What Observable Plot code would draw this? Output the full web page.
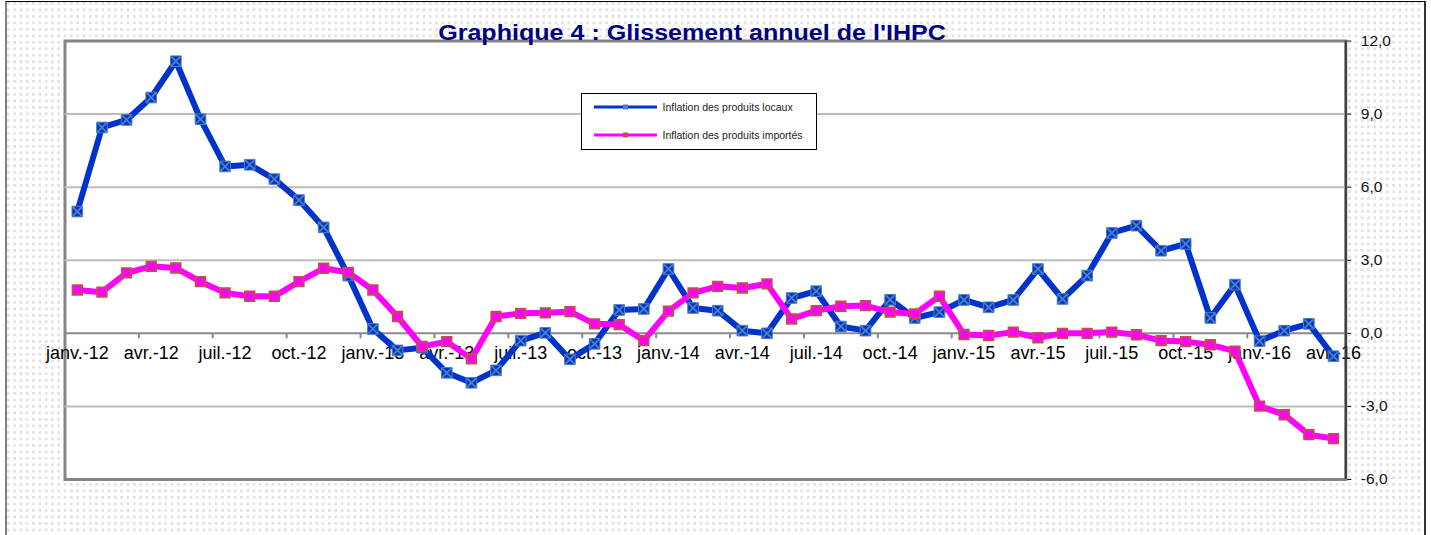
<!DOCTYPE html>
<html>
<head>
<meta charset="utf-8">
<script src="https://cdn.jsdelivr.net/npm/d3@7"></script>
<script src="https://cdn.jsdelivr.net/npm/@observablehq/plot@0.6"></script>
<style>
  html, body { margin: 0; padding: 0; background: #fff; }
  #wrap { position: relative; width: 1431px; height: 535px; overflow: hidden; font-family: "Liberation Sans", Arial, sans-serif; }
  #bg { position: absolute; left: 5px; top: 1px; width: 1417px; height: 534px;
        border-top: 1.5px solid #000; border-left: 2.5px solid #808080; border-right: 2px solid #333;
        background-color: #fff;
        background-image: linear-gradient(90deg, transparent 2.5px, #fff 2.5px), linear-gradient(#e2e2e2 2.5px, #fff 2.5px);
        background-size: 6.3px 6.5px; }
  #chart { position: absolute; left: 0; top: 0; }
  #chart svg g[aria-label="y-axis"] text, #chart svg g[aria-label="y-axis tick label"] text { font-size: 15.5px; }
  #title { position: absolute; left: 392px; top: 21.5px; width: 600px; text-align: center;
           font-weight: bold; font-size: 22px; line-height: 22px; color: #000080; white-space: nowrap;
           transform: scaleX(1.14); transform-origin: center; }
  #legend { position: absolute; left: 581px; top: 93px; width: 236px; height: 57px; box-sizing: border-box;
            border: 1.5px solid #000; background: #fff; }
  .sw { position: absolute; left: 11.5px; width: 63px; height: 10px; }
  .lt { position: absolute; left: 80.5px; font-size: 10.5px; line-height: 12px; color: #222; white-space: nowrap; }
</style>
</head>
<body>
<div id="wrap">
  <div id="bg"></div>
  <div id="chart"></div>
  <div id="title"></div>
  <div id="legend"></div>
</div>
<script>
const titleText = "Graphique 4 : Glissement annuel de l'IHPC";
const seriesNames = ["Inflation des produits locaux", "Inflation des produits importés"];

const months = [
  "janv.-12","févr.-12","mars-12","avr.-12","mai-12","juin-12","juil.-12","août-12","sept.-12","oct.-12","nov.-12","déc.-12",
  "janv.-13","févr.-13","mars-13","avr.-13","mai-13","juin-13","juil.-13","août-13","sept.-13","oct.-13","nov.-13","déc.-13",
  "janv.-14","févr.-14","mars-14","avr.-14","mai-14","juin-14","juil.-14","août-14","sept.-14","oct.-14","nov.-14","déc.-14",
  "janv.-15","févr.-15","mars-15","avr.-15","mai-15","juin-15","juil.-15","août-15","sept.-15","oct.-15","nov.-15","déc.-15",
  "janv.-16","févr.-16","mars-16","avr.-16"
];

const xLabels = ["janv.-12","avr.-12","juil.-12","oct.-12","janv.-13","avr.-13","juil.-13","oct.-13",
  "janv.-14","avr.-14","juil.-14","oct.-14","janv.-15","avr.-15","juil.-15","oct.-15","janv.-16","avr.-16"];

const yTicks = [-6, -3, 0, 3, 6, 9, 12];
const gridValues = [-3, 3, 6, 9];

const local = [
  5.0, 8.45, 8.76, 9.68, 11.17, 8.79, 6.85, 6.92, 6.33, 5.47, 4.35, 2.37,
  0.18, -0.70, -0.59, -1.62, -2.03, -1.52, -0.30, 0.02, -1.07, -0.43, 0.96, 1.00,
  2.64, 1.04, 0.93, 0.11, 0.0, 1.45, 1.73, 0.28, 0.11, 1.38, 0.63, 0.87,
  1.37, 1.07, 1.37, 2.64, 1.41, 2.37, 4.12, 4.42, 3.39, 3.67, 0.63, 2.0,
  -0.32, 0.11, 0.39, -0.94
];

const imported = [
  1.78, 1.69, 2.48, 2.75, 2.68, 2.12, 1.66, 1.52, 1.52, 2.12, 2.67, 2.50,
  1.78, 0.69, -0.54, -0.34, -1.05, 0.69, 0.82, 0.84, 0.89, 0.39, 0.36, -0.30,
  0.91, 1.66, 1.93, 1.86, 2.03, 0.59, 0.93, 1.11, 1.14, 0.87, 0.80, 1.52,
  -0.05, -0.09, 0.05, -0.18, 0.0, 0.0, 0.05, -0.06, -0.30, -0.34, -0.47, -0.73,
  -2.99, -3.34, -4.16, -4.32
];

const colors = { local: "#0033cc", localMark: "#4f81bd", imported: "#ff00ff", importedMark: "#c0504d" };

const localData = months.map((m, i) => ({ i, m, v: local[i] }));
const importedData = months.map((m, i) => ({ i, m, v: imported[i] }));
const labelData = xLabels.map(l => ({ l, i: months.indexOf(l) }));
const boundaries = labelData.slice(1).map(d => d.i - 0.5);

const tickSymbol = { draw(ctx) { ctx.moveTo(0, 0); ctx.lineTo(0, 5); } };
const fmt = d => d.toFixed(1).replace(".", ",");

const chart = Plot.plot({
  width: 1431,
  height: 535,
  marginLeft: 64.5,
  marginRight: 85.7,
  marginTop: 40.5,
  marginBottom: 56,
  style: { background: "transparent", fontFamily: "Liberation Sans, Arial, sans-serif", fontSize: "15.5px", color: "#111" },
  x: { type: "linear", domain: [-0.5, months.length - 0.5], axis: null },
  y: { domain: [-6, 12], ticks: yTicks, tickFormat: fmt, axis: "right", tickSize: 5, tickPadding: 10, label: null },
  marks: [
    Plot.frame({ fill: "white", stroke: "#858585", strokeWidth: 3 }),
    Plot.ruleY(gridValues, { stroke: "#bcbcbc", strokeWidth: 2 }),
    Plot.ruleY([0], { stroke: "#8a8a8a", strokeWidth: 2 }),
    Plot.dot(boundaries, { x: d => d, y: () => 0, symbol: tickSymbol, r: 5, fill: "none", stroke: "#8a8a8a", strokeWidth: 2 }),
    Plot.text(labelData, { x: "i", y: () => 0, text: "l", dy: 20, fontSize: 18, fill: "#000" }),
    Plot.ruleX([months.length - 0.5], { stroke: "#3a3a3a", strokeWidth: 2 }),
    Plot.line(localData, { x: "i", y: "v", stroke: colors.local, strokeWidth: 6, strokeLinejoin: "round" }),
    Plot.dot(localData, { x: "i", y: "v", symbol: "square", r: 6, fill: colors.local, stroke: colors.localMark, strokeWidth: 1 }),
    Plot.dot(localData, { x: "i", y: "v", symbol: "times", r: 4.2, stroke: colors.localMark, strokeWidth: 1.8 }),
    Plot.line(importedData, { x: "i", y: "v", stroke: colors.imported, strokeWidth: 6, strokeLinejoin: "round" }),
    Plot.dot(importedData, { x: "i", y: "v", symbol: "square", r: 5.4, fill: colors.imported, stroke: colors.importedMark, strokeWidth: 1.8 })
  ]
});
document.getElementById("chart").appendChild(chart);

document.getElementById("title").textContent = titleText;

const legend = document.getElementById("legend");
const rows = [
  { name: seriesNames[0], line: colors.local, mark: colors.localMark, y: 12.5 },
  { name: seriesNames[1], line: colors.imported, mark: colors.importedMark, y: 41 }
];
rows.forEach(r => {
  const sw = document.createElementNS("http://www.w3.org/2000/svg", "svg");
  sw.setAttribute("class", "sw");
  sw.setAttribute("width", 63); sw.setAttribute("height", 10);
  sw.style.top = (r.y - 5) + "px";
  sw.innerHTML = `<line x1="0" x2="63" y1="5" y2="5" stroke="${r.line}" stroke-width="3"/>` +
    `<rect x="29" y="2.5" width="5" height="5" fill="${r.mark}"/>`;
  legend.appendChild(sw);
  const t = document.createElement("div");
  t.className = "lt";
  t.style.top = (r.y - 6) + "px";
  t.textContent = r.name;
  legend.appendChild(t);
});
</script>
</body>
</html>
